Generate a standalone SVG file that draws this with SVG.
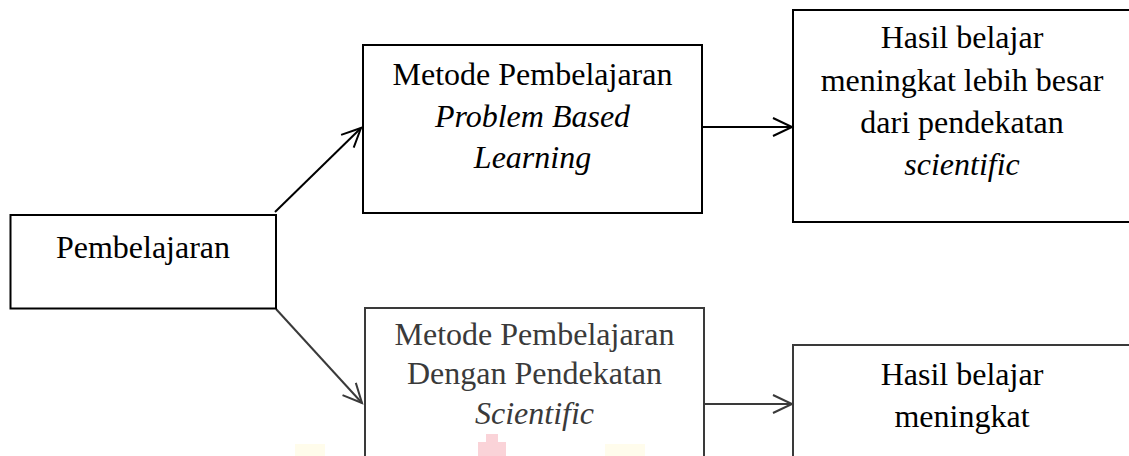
<svg xmlns="http://www.w3.org/2000/svg" width="1129" height="456" viewBox="0 0 1129 456">
<defs>
<style>
.box{fill:none;stroke:#000;stroke-width:2}
.box2{fill:none;stroke:#3a3a3a;stroke-width:2}
.t{font-family:"Liberation Serif","Times New Roman",serif;font-size:32px;fill:#000;text-anchor:middle}
.t2{font-family:"Liberation Serif","Times New Roman",serif;font-size:32px;fill:#3a3a3a;text-anchor:middle}
.i{font-style:italic}
.c{fill:none;stroke:#000;stroke-width:2}
.c2{fill:none;stroke:#3a3a3a;stroke-width:2}
</style>
<marker id="ah" markerUnits="userSpaceOnUse" markerWidth="24" markerHeight="22" refX="21" refY="11" orient="auto" viewBox="0 0 24 22">
<path d="M2,2 L21,11 L2,20" fill="none" stroke="#000" stroke-width="2"/>
</marker>
<marker id="ah2" markerUnits="userSpaceOnUse" markerWidth="24" markerHeight="22" refX="21" refY="11" orient="auto" viewBox="0 0 24 22">
<path d="M2,2 L21,11 L2,20" fill="none" stroke="#3a3a3a" stroke-width="2"/>
</marker>
</defs>
<rect width="1129" height="456" fill="#fff"/>
<g id="watermark" opacity="0.3">
<rect x="478" y="442" width="28" height="14" fill="#f07080"/>
<rect x="486" y="434" width="12" height="10" fill="#f07080"/>
<rect x="295" y="444" width="30" height="12" fill="#fff6c0"/>
<rect x="605" y="444" width="40" height="12" fill="#fff6c0"/>
</g>
<g id="connectors">
<line class="c" x1="275" y1="212" x2="361" y2="128" marker-end="url(#ah)"/>
<line class="c" x1="702" y1="127" x2="792" y2="127" marker-end="url(#ah)"/>
<line class="c2" x1="276" y1="309" x2="362" y2="403" marker-end="url(#ah2)"/>
<line class="c2" x1="704" y1="404" x2="792" y2="404" marker-end="url(#ah2)"/>
</g>
<g id="pembelajaran">
<rect class="box" x="10.5" y="215" width="265.5" height="93.5"/>
<text class="t" x="143" y="258">Pembelajaran</text>
</g>
<g id="pbl">
<rect class="box" x="363" y="45" width="339" height="168"/>
<text class="t" x="532.5" y="85">Metode Pembelajaran</text>
<text class="t i" x="532.5" y="127">Problem Based</text>
<text class="t i" x="532.5" y="168">Learning</text>
</g>
<g id="hasil1">
<rect class="box" x="793" y="10" width="339" height="212"/>
<text class="t" x="962" y="48">Hasil belajar</text>
<text class="t" x="962" y="91">meningkat lebih besar</text>
<text class="t" x="962" y="133">dari pendekatan</text>
<text class="t i" x="962" y="175">scientific</text>
</g>
<g id="scientific">
<rect class="box2" x="365" y="308" width="339" height="160"/>
<text class="t2" x="534.5" y="345">Metode Pembelajaran</text>
<text class="t2" x="534.5" y="384">Dengan Pendekatan</text>
<text class="t2 i" x="534.5" y="424">Scientific</text>
</g>
<g id="hasil2">
<rect class="box2" x="793" y="345" width="339" height="130"/>
<text class="t" x="962" y="385">Hasil belajar</text>
<text class="t" x="962" y="427">meningkat</text>
</g>
</svg>
